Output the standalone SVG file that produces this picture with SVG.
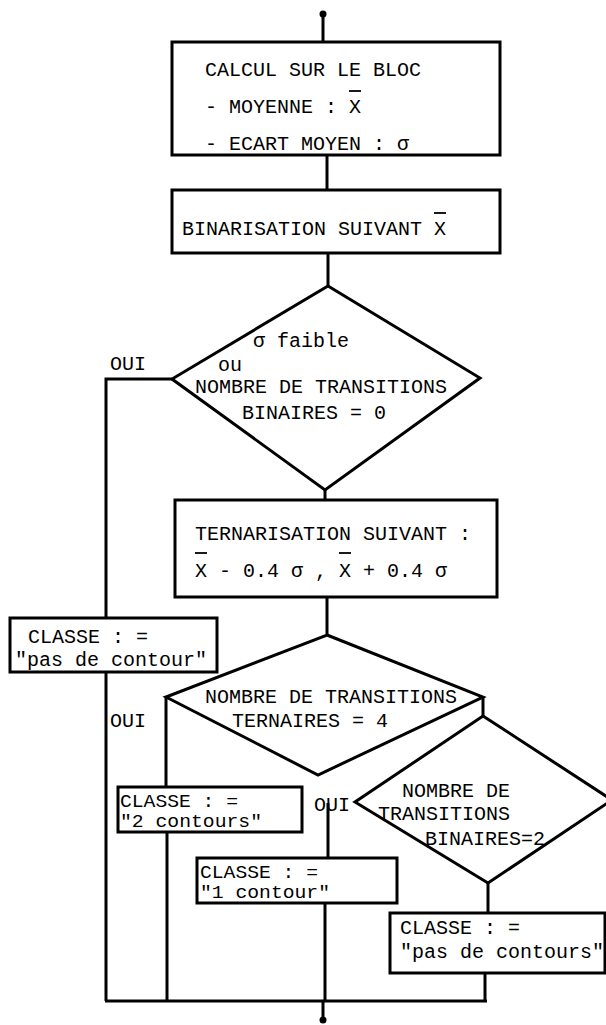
<svg xmlns="http://www.w3.org/2000/svg" width="606" height="1025" viewBox="0 0 606 1025">
<style>
  .shape { fill: #fff; stroke: #000; stroke-width: 3; stroke-linejoin: miter; }
  .conn { fill: none; stroke: #000; stroke-width: 3; }
  .ovl { stroke: #000; stroke-width: 1.8; }
  text { font-family: "Liberation Mono", "DejaVu Sans Mono", monospace; font-size: 20px; fill: #000; }
  .sm { font-size: 18px; }
</style>
<rect width="606" height="1025" fill="#fff"/>

<g id="connectors">
  <circle cx="323" cy="14" r="3.5" fill="#000"/>
  <line class="conn" x1="323" y1="14" x2="323" y2="42"/>
  <line class="conn" x1="327" y1="155" x2="327" y2="190"/>
  <line class="conn" x1="328" y1="253" x2="328" y2="286"/>
  <line class="conn" x1="325" y1="490" x2="325" y2="500"/>
  <line class="conn" x1="327" y1="597" x2="327" y2="635"/>
  <polyline class="conn" points="172,379 106,379 106,618"/>
  <line class="conn" x1="106" y1="672" x2="106" y2="1001"/>
  <line class="conn" x1="166" y1="697" x2="166" y2="787"/>
  <line class="conn" x1="167" y1="832" x2="167" y2="1001"/>
  <line class="conn" x1="483" y1="697" x2="483" y2="716"/>
  <line class="conn" x1="328" y1="803" x2="328" y2="858"/>
  <line class="conn" x1="325" y1="903" x2="325" y2="1001"/>
  <line class="conn" x1="488" y1="883" x2="488" y2="913"/>
  <line class="conn" x1="485" y1="973" x2="485" y2="1001"/>
  <line class="conn" x1="105" y1="1001" x2="487" y2="1001"/>
  <line class="conn" x1="323" y1="1001" x2="323" y2="1020"/>
  <circle cx="323" cy="1020" r="3.5" fill="#000"/>
  <text x="110" y="370">OUI</text>
  <text x="110" y="727">OUI</text>
</g>

<g id="calcul">
  <rect class="shape" x="172" y="42" width="328" height="113"/>
  <text x="205" y="76">CALCUL SUR LE BLOC</text>
  <text x="205" y="113">- MOYENNE : X</text>
  <line class="ovl" x1="349" y1="91" x2="361" y2="91"/>
  <text x="205" y="150">- ECART MOYEN : σ</text>
</g>

<g id="binarisation">
  <rect class="shape" x="172" y="190" width="328" height="63"/>
  <text x="182" y="235">BINARISATION SUIVANT X</text>
  <line class="ovl" x1="434" y1="213" x2="446" y2="213"/>
</g>

<g id="test-sigma">
  <polygon class="shape" points="328,286 480,378 325,490 172,379"/>
  <text x="253" y="347">σ faible</text>
  <text x="218" y="371">ou</text>
  <text x="195" y="393">NOMBRE DE TRANSITIONS</text>
  <text x="242" y="419">BINAIRES = 0</text>
</g>

<g id="ternarisation">
  <rect class="shape" x="175" y="500" width="322" height="97"/>
  <text x="195" y="540">TERNARISATION SUIVANT :</text>
  <text x="195" y="577">X - 0.4 σ , X + 0.4 σ</text>
  <line class="ovl" x1="195" y1="553" x2="207" y2="553"/>
  <line class="ovl" x1="339" y1="553" x2="351" y2="553"/>
</g>

<g id="pas-de-contour">
  <rect class="shape" x="10" y="618" width="207" height="54"/>
  <text x="28" y="643">CLASSE : =</text>
  <text x="15" y="666">"pas de contour"</text>
</g>

<g id="test-ternaires">
  <polygon class="shape" points="327,635 483,697 318,775 166,697"/>
  <text x="205" y="703">NOMBRE DE TRANSITIONS</text>
  <text x="232" y="727">TERNAIRES = 4</text>
</g>

<g id="deux-contours">
  <rect class="shape" x="118" y="787" width="184" height="45"/>
  <text class="sm" x="120" y="807" textLength="118" lengthAdjust="spacingAndGlyphs">CLASSE : =</text>
  <text class="sm" x="120" y="827" textLength="142" lengthAdjust="spacingAndGlyphs">"2 contours"</text>
</g>

<g id="test-binaires">
  <polygon class="shape" points="483,716 612,800 488,883 355,802"/>
  <text x="402" y="797">NOMBRE DE</text>
  <text x="378" y="820">TRANSITIONS</text>
  <text x="425" y="845">BINAIRES=2</text>
  <text x="314" y="811">OUI</text>
</g>

<g id="un-contour">
  <rect class="shape" x="197" y="858" width="200" height="45"/>
  <text class="sm" x="200" y="878" textLength="118" lengthAdjust="spacingAndGlyphs">CLASSE : =</text>
  <text class="sm" x="200" y="898" textLength="130" lengthAdjust="spacingAndGlyphs">"1 contour"</text>
</g>

<g id="pas-de-contours">
  <rect class="shape" x="390" y="913" width="215" height="60"/>
  <text x="400" y="934">CLASSE : =</text>
  <text x="400" y="958">"pas de contours"</text>
</g>
</svg>
